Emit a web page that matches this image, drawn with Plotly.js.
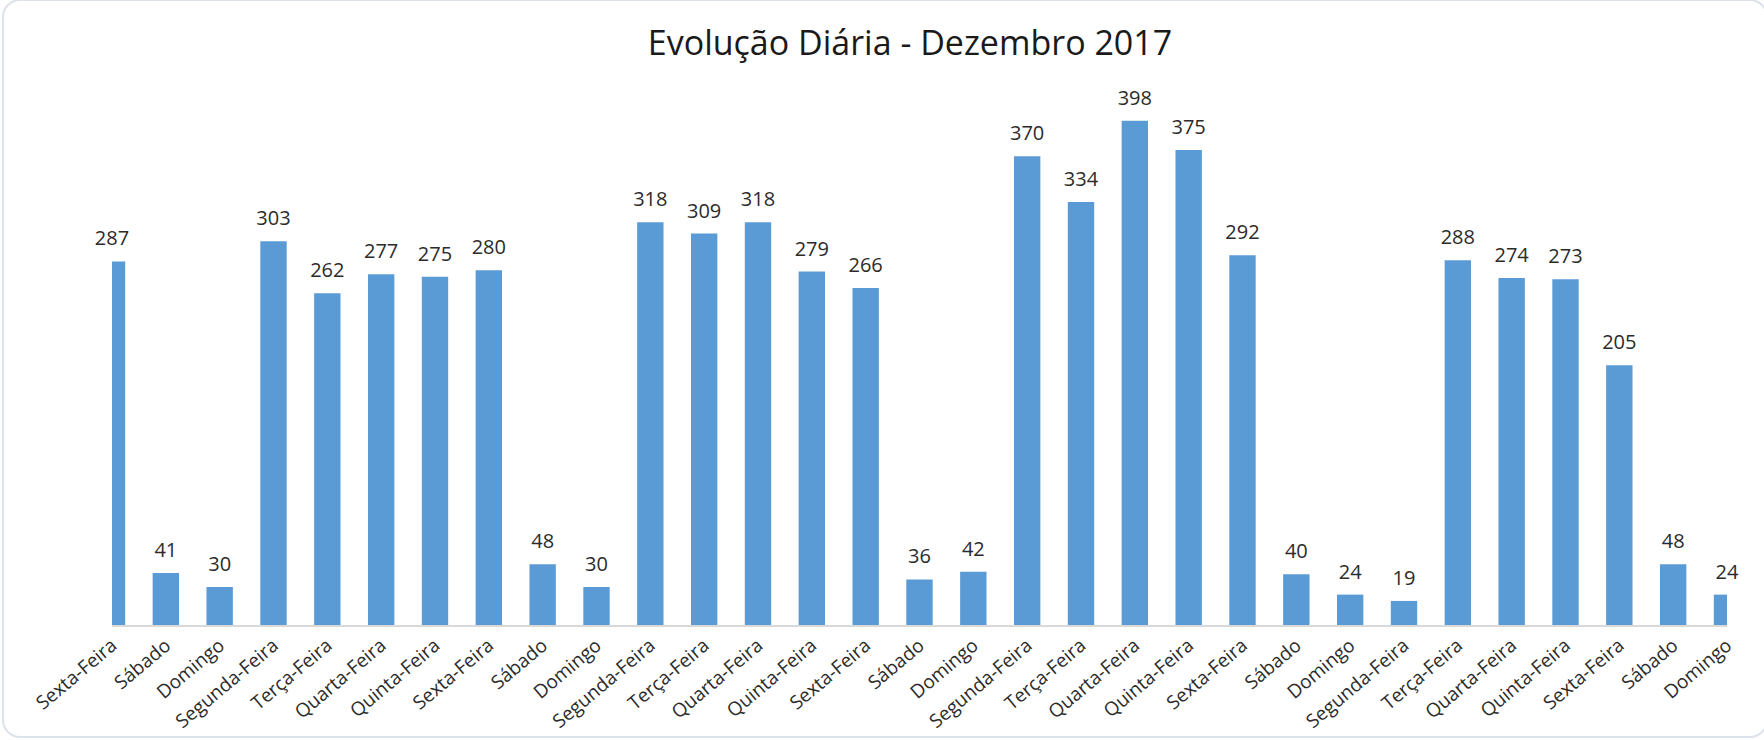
<!DOCTYPE html>
<html>
<head>
<meta charset="utf-8">
<script src="https://cdn.plot.ly/plotly-3.0.1.min.js"></script>
<style>
  html, body { margin: 0; padding: 0; background: #ffffff; }
  #wrap { position: relative; width: 1764px; height: 740px; overflow: hidden; }
  #chart { width: 1764px; height: 740px; }
  #frame { position: absolute; left: 2px; top: -1px; width: 1766px; height: 739px;
           border: 2px solid #dde2ea; border-radius: 18px; pointer-events: none; box-sizing: border-box; }
</style>
</head>
<body>
<div id="wrap">
  <div id="chart"></div>
  <div id="frame"></div>
</div>
<script>
const days = [1,2,3,4,5,6,7,8,9,10,11,12,13,14,15,16,17,18,19,20,21,22,23,24,25,26,27,28,29,30,31];
const dayNames = ["Sexta-Feira","Sábado","Domingo","Segunda-Feira","Terça-Feira","Quarta-Feira","Quinta-Feira",
  "Sexta-Feira","Sábado","Domingo","Segunda-Feira","Terça-Feira","Quarta-Feira","Quinta-Feira",
  "Sexta-Feira","Sábado","Domingo","Segunda-Feira","Terça-Feira","Quarta-Feira","Quinta-Feira",
  "Sexta-Feira","Sábado","Domingo","Segunda-Feira","Terça-Feira","Quarta-Feira","Quinta-Feira",
  "Sexta-Feira","Sábado","Domingo"];
const values = [287,41,30,303,262,277,275,280,48,30,318,309,318,279,266,36,42,370,334,398,375,292,40,24,19,288,274,273,205,48,24];
const chartTitle = "Evolução Diária - Dezembro 2017";

const FONT = "Open Sans, Noto Sans, sans-serif";

const bars = {
  type: "bar",
  x: days,
  y: values,
  marker: { color: "#5b9bd5" },
  hoverinfo: "skip",
  showlegend: false
};

const labels = {
  type: "scatter",
  mode: "markers+text",
  x: days,
  y: values,
  text: values.map(String),
  textposition: "top center",
  textfont: { family: FONT, size: 20, color: "#2b2b2b" },
  marker: { size: 16, color: "rgba(0,0,0,0)" },
  cliponaxis: false,
  hoverinfo: "skip",
  showlegend: false
};

const layout = {
  width: 1764,
  height: 740,
  margin: { l: 112, r: 37, t: 55, b: 115, pad: 0 },
  paper_bgcolor: "rgba(0,0,0,0)",
  plot_bgcolor: "rgba(0,0,0,0)",
  bargap: 0.51,
  title: {
    text: chartTitle,
    font: { family: FONT, size: 34, color: "#1a1a1a" },
    x: 910 / 1764,
    xanchor: "center",
    y: 1 - 43 / 740,
    yanchor: "middle"
  },
  xaxis: {
    range: [1, 31],
    tickmode: "array",
    tickvals: days,
    ticktext: dayNames,
    tickangle: -40,
    tickfont: { family: FONT, size: 19, color: "#2b2b2b" },
    showgrid: false,
    zeroline: false,
    showline: true,
    linecolor: "#d9d9d9",
    linewidth: 2,
    ticks: "",
    fixedrange: true
  },
  yaxis: {
    range: [0, 450],
    visible: false,
    showgrid: false,
    zeroline: false,
    fixedrange: true
  }
};

Plotly.newPlot("chart", [bars, labels], layout, { displayModeBar: false, staticPlot: true });
</script>
</body>
</html>
